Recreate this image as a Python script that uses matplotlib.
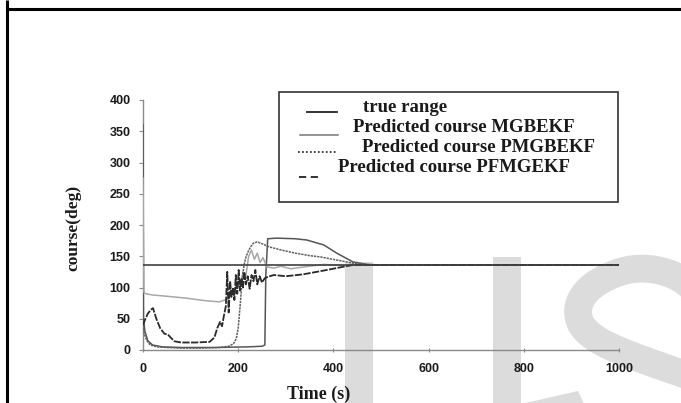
import matplotlib
matplotlib.use('Agg')
import matplotlib.pyplot as plt
from matplotlib.patches import Rectangle, Polygon, PathPatch
from matplotlib.path import Path

# time axis and course values (deg)
t_true = [0, 1000]
true_range = [136, 136]

t_mg = [0, 2, 6, 20, 50, 90, 130, 160, 172, 180, 186, 192, 198, 204, 210, 216, 222, 228, 234, 240,
        246, 252, 260, 275, 290, 310, 340, 380, 420, 460, 1000]
course_mg = [275, 92, 90, 88, 86, 83, 79, 77, 80, 82, 95, 88, 110, 100, 125, 118, 150, 160, 145, 155,
             140, 148, 133, 131, 134, 130, 133, 137, 135, 136, 136]

t_pmg = [0, 3, 8, 15, 30, 50, 80, 120, 160, 180, 190, 196, 200, 204, 208, 212, 216, 220, 226, 232,
         240, 250, 265, 290, 320, 350, 372, 400, 441, 480, 1000]
course_pmg = [40, 25, 15, 8, 5, 4, 3, 3, 4, 6, 10, 18, 35, 70, 110, 135, 148, 156, 165, 171,
              173, 170, 165, 160, 155, 151, 149, 145, 139, 136, 136]

t_pfm = [0, 4, 10, 16, 21, 28, 36, 45, 52, 58, 66, 80, 110, 140, 150, 156, 162, 166, 170, 174,
         177, 180, 183, 186, 189, 192, 195, 198, 201, 204, 207, 210, 213, 216, 220, 224, 228, 232,
         236, 240, 245, 250, 256, 262, 275, 300, 336, 386, 440, 480, 1000]
course_pfm = [40, 48, 58, 64, 67, 50, 35, 26, 25, 20, 14, 12, 12, 13, 20, 35, 45, 38, 55, 70,
              125, 60, 110, 85, 100, 80, 120, 90, 128, 95, 115, 100, 125, 105, 118, 98, 120, 110,
              128, 105, 118, 108, 115, 117, 120, 118, 121, 128, 136, 136, 136]

t_jump = [0, 1, 4, 10, 20, 40, 80, 150, 220, 250, 256, 258, 262, 280, 320, 344, 380, 407, 441, 470,
          500, 1000]
course_jump = [360, 50, 30, 15, 8, 5, 4, 4, 5, 6, 8, 120, 178, 179, 178, 176, 168, 155, 141, 137,
               136, 136]

legend_labels = ['true range', 'Predicted course MGBEKF', 'Predicted course PMGBEKF',
                 'Predicted course PFMGEKF']

W, H = 681, 403
fig = plt.figure(figsize=(W / 100, H / 100), dpi=100)

# background layer: page frame and watermark letters, in pixel units
bg = fig.add_axes([0, 0, 1, 1], zorder=0)
bg.set_xlim(0, W)
bg.set_ylim(H, 0)
bg.axis('off')
wm = '#dcdcdc'
bg.add_patch(Rectangle((345, 262), 28, 150, color=wm, lw=0))
bg.add_patch(Rectangle((493, 257), 28, 150, color=wm, lw=0))
bg.add_patch(Polygon([(521, 404), (578, 391), (584, 404)], closed=True, color=wm, lw=0))
s_path = Path([(700, 300), (690, 275), (650, 262), (620, 272),
               (590, 282), (572, 300), (580, 322),
               (590, 345), (640, 358), (700, 380)],
              [Path.MOVETO] + [Path.CURVE4] * 9)
bg.add_patch(PathPatch(s_path, fill=False, edgecolor=wm, lw=20, capstyle='butt'))
bg.plot([7, 7], [0, H], color='black', lw=2.2, solid_capstyle='butt')
bg.plot([7, W], [8.5, 8.5], color='black', lw=2.2, solid_capstyle='butt')

# main plot
ax = fig.add_axes([143 / W, (H - 350) / H, 476 / W, 250 / H], zorder=1)
ax.patch.set_alpha(0)
ax.plot(t_jump, course_jump, color='#555555', lw=1.1, zorder=3)
ax.plot(t_mg, course_mg, color='#a8a8a8', lw=1.1, zorder=3)
ax.plot(t_pmg, course_pmg, color='#606060', lw=1.1, ls=(0, (1.5, 0.6)), zorder=3)
ax.plot(t_pfm, course_pfm, color='#2a2a2a', lw=1.3, ls=(0, (4, 0.8)), zorder=3)
ax.plot(t_true, true_range, color='#404040', lw=1.2, zorder=3)

ax.set_xlim(0, 1000)
ax.set_ylim(0, 400)
ax.set_xticks([0, 200, 400, 600, 800, 1000])
ax.set_yticks(range(0, 401, 50))
for side in ['top', 'right']:
    ax.spines[side].set_visible(False)
for side in ['left', 'bottom']:
    ax.spines[side].set_color('#8a8a8a')
    ax.spines[side].set_linewidth(1.0)
ax.tick_params(axis='y', direction='out', length=3, width=0.8, color='#8a8a8a', pad=6)
ax.tick_params(axis='x', direction='inout', length=3, width=0.8, color='#8a8a8a', pad=8)
for lab in ax.get_xticklabels() + ax.get_yticklabels():
    lab.set_fontfamily('Liberation Sans')
    lab.set_fontweight('bold')
    lab.set_fontsize(9)
    lab.set_color('#1a1a1a')

# axis titles and hand-made legend box, in pixel units
fg = fig.add_axes([0, 0, 1, 1], zorder=3)
fg.set_xlim(0, W)
fg.set_ylim(H, 0)
fg.axis('off')
serif = 'Liberation Serif'
fg.text(319, 394, 'Time (s)', fontsize=13, fontweight='bold', family=serif,
        ha='center', va='center', color='#1a1a1a')
fg.text(73, 228, 'course(deg)', fontsize=12.5, fontweight='bold', family=serif,
        rotation=90, ha='center', va='center', color='#1a1a1a')

fg.add_patch(Rectangle((279, 92), 339, 110, facecolor='white', edgecolor='#333333', lw=1.2))
fg.plot([307, 337], [112, 112], color='#222222', lw=1.3)
fg.plot([300, 338], [135, 135], color='#777777', lw=1.1)
fg.plot([298, 337], [152, 152], color='#333333', lw=1.3, ls=(0, (1, 1.2)))
fg.plot([299, 318], [177, 177], color='#222222', lw=1.3, ls=(0, (4, 2.5)))
text_pos = [(363, 108), (353, 127), (362, 147), (338, 167)]
for (x, y), lbl in zip(text_pos, legend_labels):
    fg.text(x, y, lbl, fontsize=13.5, fontweight='bold', family=serif,
            ha='left', va='center', color='#1a1a1a')

fig.savefig('out.png', dpi=100)
